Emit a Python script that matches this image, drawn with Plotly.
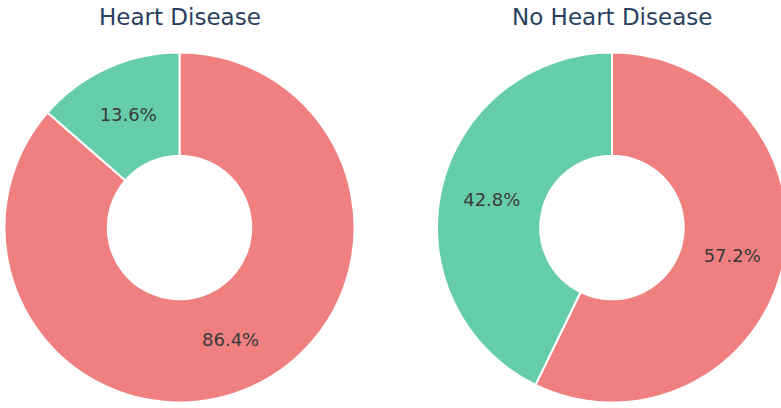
import plotly.graph_objects as go

# Share of each group among patients with / without heart disease
groups = ["Male", "Female"]
heart_disease = [86.4, 13.6]
no_heart_disease = [57.2, 42.8]
titles = ["Heart Disease", "No Heart Disease"]
colors = ["#F08080", "#66CDAA"]

W, H = 800, 408  # canvas slightly wider than the window; right donut runs off the edge
R = 175.0
cy = 227.5
centers_x = [179.5, 612.0]
FONT = "DejaVu Sans, Verdana, sans-serif"

def dom_x(cx):
    return [(cx - R) / W, (cx + R) / W]

dom_y = [1 - (cy + R) / H, 1 - (cy - R) / H]

fig = go.Figure()
for vals, cx in zip([heart_disease, no_heart_disease], centers_x):
    fig.add_trace(go.Pie(
        labels=groups,
        values=vals,
        hole=0.41,
        sort=False,
        direction="clockwise",
        textinfo="percent",
        textposition="inside",
        textfont=dict(size=18, color="#3a3a3a", family=FONT),
        marker=dict(colors=colors, line=dict(color="white", width=2)),
        domain=dict(x=dom_x(cx), y=dom_y),
        showlegend=False,
    ))

for t, cx in zip(titles, centers_x):
    fig.add_annotation(
        text=t, x=cx / W, y=1 - 17 / H, xref="paper", yref="paper",
        xanchor="center", yanchor="middle", showarrow=False,
        font=dict(size=23, color="#2a3f5f", family=FONT),
    )

fig.update_layout(
    width=W, height=H,
    margin=dict(l=0, r=0, t=0, b=0),
    paper_bgcolor="white",
    plot_bgcolor="white",
    font=dict(family=FONT),
)

fig.write_html("out.html", post_script="document.body.style.overflow='hidden';document.body.style.margin='0';")
